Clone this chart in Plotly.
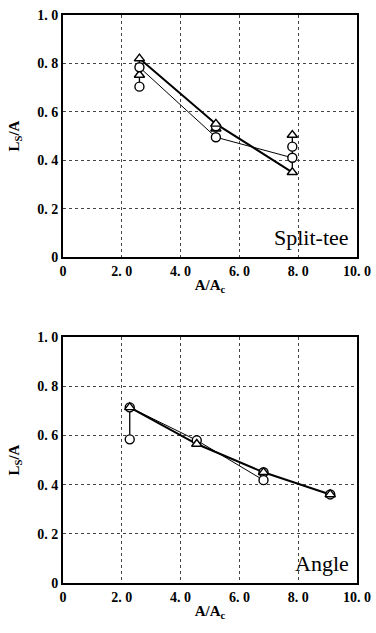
import plotly.graph_objects as go

# ---------- data ----------
x_tee = [2.6, 5.2, 7.8]
tee_tri_a = [0.82, 0.55, 0.35]     # thick line
tee_circ_a = [0.784, 0.495, 0.41]  # thin line
tee_tri_b = [0.752, 0.53, 0.504]
tee_circ_b = [0.704, 0.54, 0.456]

x_ang = [2.27, 4.55, 6.82, 9.09]
ang_tri_a = [0.714, 0.565, 0.45, 0.36]   # thick line
ang_circ_a = [0.714, 0.58, 0.418, None]  # thin line
ang_circ_b = [0.584, None, 0.45, 0.36]

x_ticks = [0, 2, 4, 6, 8, 10]
x_ticktext = ["0", "2. 0", "4. 0", "6. 0", "8. 0", "10. 0"]
y_ticks = [0, 0.2, 0.4, 0.6, 0.8, 1.0]
y_ticktext = ["0", "0. 2", "0. 4", "0. 6", "0. 8", "1. 0"]

FONT = "Liberation Serif"

fig = go.Figure()

def add(xs, ys, xa, ya, symbol, mode="markers", width=1.0):
    fig.add_trace(go.Scatter(
        x=xs, y=ys, xaxis=xa, yaxis=ya, mode=mode,
        line=dict(color="black", width=width),
        marker=dict(symbol=symbol, size=9, color="white",
                    line=dict(color="black", width=1.4)),
        connectgaps=False, showlegend=False, cliponaxis=False))

# vertical range lines (drawn from data min/max at end points)
for i in [0, 2]:
    vals = [tee_tri_a[i], tee_circ_a[i], tee_tri_b[i], tee_circ_b[i]]
    fig.add_trace(go.Scatter(x=[x_tee[i], x_tee[i]], y=[max(vals), min(vals)],
                             xaxis="x", yaxis="y", mode="lines",
                             line=dict(color="black", width=1.3), showlegend=False))
vals = [ang_tri_a[0], ang_circ_a[0], ang_circ_b[0]]
fig.add_trace(go.Scatter(x=[x_ang[0], x_ang[0]], y=[max(vals), min(vals)],
                         xaxis="x2", yaxis="y2", mode="lines",
                         line=dict(color="black", width=1.3), showlegend=False))

# top: split-tee
add(x_tee, tee_circ_a, "x", "y", "circle-open", "lines", 1.0)
add(x_tee, tee_tri_a, "x", "y", "triangle-up", "lines", 2.0)
add(x_tee, tee_tri_b, "x", "y", "triangle-up")
add(x_tee, tee_circ_b, "x", "y", "circle")
add(x_tee, tee_circ_a, "x", "y", "circle")
add(x_tee, tee_tri_a, "x", "y", "triangle-up")

# bottom: angle
add(x_ang, ang_circ_a, "x2", "y2", "circle", "lines", 1.0)
add(x_ang, ang_tri_a, "x2", "y2", "triangle-up", "lines", 2.0)
add(x_ang, ang_circ_b, "x2", "y2", "circle")
add(x_ang, ang_circ_a, "x2", "y2", "circle")
add(x_ang, ang_tri_a, "x2", "y2", "triangle-up")

tickfont = dict(family=FONT, size=14, color="black", weight="bold")
titlefont = dict(family=FONT, size=15, color="black", weight="bold")
axis_common = dict(
    showline=True, linecolor="black", linewidth=2, mirror=True,
    showgrid=True, gridcolor="#444", griddash="dot", gridwidth=1,
    zeroline=False, ticks="", tickfont=tickfont, automargin=False,
    ticklabeloverflow="allow",
)
xa = dict(axis_common, range=[0, 10], tickvals=x_ticks, ticktext=x_ticktext,
          title=dict(text="A/A<sub>c</sub>", font=titlefont, standoff=2))
ya = dict(axis_common, range=[0, 1.0], tickvals=y_ticks, ticktext=y_ticktext,
          title=dict(text="L<sub>S</sub>/A", font=titlefont, standoff=14))

H = 568.0
annots = [
    dict(text="Split-tee", x=9.8, y=0.02, xref="x", yref="y", xanchor="right",
         yanchor="bottom", showarrow=False, font=dict(family=FONT, size=22, color="black")),
    dict(text="Angle", x=9.8, y=0.02, xref="x2", yref="y2", xanchor="right",
         yanchor="bottom", showarrow=False, font=dict(family=FONT, size=22, color="black")),
]

fig.update_layout(
    width=376, height=633,
    margin=dict(l=63, r=19, t=15, b=50),
    paper_bgcolor="white", plot_bgcolor="white",
    xaxis=dict(xa, domain=[0, 1], anchor="y"),
    yaxis=dict(ya, domain=[(583 - 257) / H, 1.0], anchor="x"),
    xaxis2=dict(xa, domain=[0, 1], anchor="y2"),
    yaxis2=dict(ya, domain=[0, (583 - 337) / H], anchor="x2"),
    annotations=annots,
)

fig.write_html(
    "out.html",
    config={"displayModeBar": False},
    post_script="document.body.style.margin='0';document.body.style.overflow='hidden';",
)
